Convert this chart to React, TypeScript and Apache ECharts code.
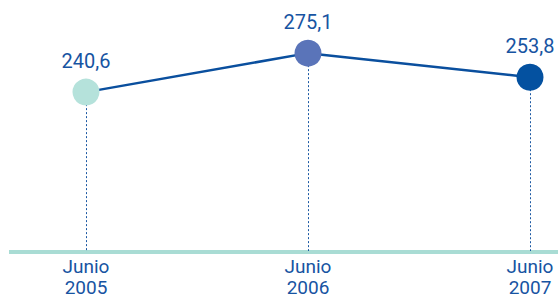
import React, { useEffect, useRef } from "react";
import * as echarts from "echarts";

const categories = ["Junio\n2005", "Junio\n2006", "Junio\n2007"];
const values = [240.6, 275.1, 253.8];
const pointColors = ["#b5e2db", "#5a74b9", "#0451a0"];

export default function App() {
  const ref = useRef<HTMLDivElement>(null);
  useEffect(() => {
    if (!ref.current) return;
    const chart = echarts.init(ref.current, undefined, { renderer: "svg" });
    const textColor = "#1754a2";
    chart.setOption({
      animation: false,
      grid: { left: 86, right: 28, top: 25, bottom: 46 },
      xAxis: {
        type: "category",
        data: categories,
        boundaryGap: false,
        axisLine: { show: false },
        axisTick: { show: false },
        axisLabel: {
          color: textColor,
          fontFamily: "Roboto",
          fontSize: 19,
          lineHeight: 21,
          margin: 5,
          interval: 0,
        },
      },
      yAxis: {
        type: "value",
        min: 100,
        max: 300,
        show: false,
        splitLine: { show: false },
      },
      graphic: [
        {
          type: "rect",
          shape: { x: 9, y: 250, width: 549, height: 4 },
          style: { fill: "#a9dcd4" },
          z: 1,
        },
      ],
      series: [
        {
          type: "line",
          data: values.map((v, i) => ({
            value: v,
            itemStyle: { color: pointColors[i] },
          })),
          symbol: "circle",
          symbolSize: 27,
          lineStyle: { color: "#0a4f9e", width: 2.5 },
          z: 3,
          label: {
            show: true,
            position: "top",
            distance: 8,
            color: textColor,
            fontFamily: "Roboto",
            fontSize: 20,
            formatter: (p: any) => String(p.value).replace(".", ","),
          },
          markLine: {
            silent: true,
            symbol: "none",
            label: { show: false },
            lineStyle: { color: "#1b58a3", width: 1, type: [2, 2] },
            z: 1,
            data: values.map((v, i) => [
              { coord: [i, v] },
              { coord: [i, 100] },
            ]),
          },
        },
      ],
    });
    return () => chart.dispose();
  }, []);
  return <div ref={ref} style={{ width: 558, height: 298, position: "absolute", left: 0, top: 0 }} />;
}
